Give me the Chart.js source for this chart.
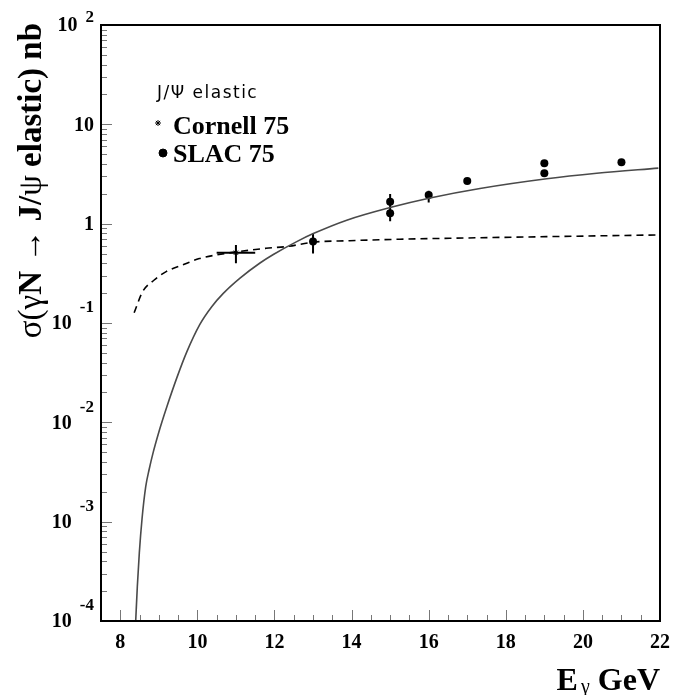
<!DOCTYPE html>
<html>
<head>
<meta charset="utf-8">
<script src="https://cdn.jsdelivr.net/npm/chart.js@4/dist/chart.umd.min.js"></script>
<style>
  html, body { margin: 0; padding: 0; background: #fff; }
  canvas { display: block; }
</style>
</head>
<body>
<canvas id="chart" width="675" height="695"></canvas>
<script>
// ---- axis ticks ----
const xTickLabels = [8, 10, 12, 14, 16, 18, 20, 22];
const yDecades = [-4, -3, -2, -1, 0, 1, 2];

// ---- model curves: photon energy (GeV) and cross section (nb) ----
const fitE     = [8.400, 8.442, 8.494, 8.564, 8.660, 8.753, 8.857, 8.986, 9.090, 9.204, 9.464, 9.723, 10.068, 10.372, 10.672, 11.106, 11.624, 11.970, 12.577, 13.007, 13.874, 14.997, 16.034, 17.331, 19.062, 20.359, 21.957];
const fitSigma = [1.0e-4, 2.21e-4, 4.85e-4, 1.064e-3, 2.25e-3, 3.41e-3, 5.04e-3, 7.64e-3, 0.01038, 0.01422, 0.02786, 0.0509, 0.0973, 0.1459, 0.1986, 0.2831, 0.4018, 0.4895, 0.6598, 0.7943, 1.084, 1.452, 1.813, 2.259, 2.831, 3.214, 3.625];

const vdmE     = [8.36, 8.58, 8.88, 9.19, 9.62, 10.05, 10.49, 11.78, 12.35, 12.99, 13.95, 15.25, 16.55, 19.06, 21.95];
const vdmSigma = [0.127, 0.207, 0.271, 0.329, 0.384, 0.445, 0.484, 0.565, 0.590, 0.650, 0.674, 0.697, 0.713, 0.740, 0.770];

// ---- measurements ----
const slacE       = [13, 15, 15, 16, 17, 19, 19, 21];
const slacSigma   = [0.66, 1.66, 1.27, 1.94, 2.69, 4.06, 3.22, 4.15];
const slacErrUp   = [0.14, 0.33, 0.25, 0.21, 0, 0, 0, 0];
const slacErrDown = [0.16, 0.30, 0.21, 0.31, 0, 0, 0, 0];

const cornellE       = [11];
const cornellSigma   = [0.51];
const cornellErrE    = [0.5];
const cornellErrUp   = [0.10];
const cornellErrDown = [0.11];

const SERIF = '"Liberation Serif", "Times New Roman", serif';

const toXY = (xs, ys) => xs.map((x, i) => ({ x: x, y: ys[i] }));

// frame and inward tick marks
const framePlugin = {
  id: 'frame',
  beforeDatasetsDraw(chart) {
    const { ctx, chartArea: a, scales: { x, y } } = chart;
    ctx.save();
    ctx.strokeStyle = '#777';
    ctx.lineWidth = 1;
    ctx.beginPath();
    for (let v = 8; v < 22; v += 0.5) {
      const px = Math.round(x.getPixelForValue(v)) + 0.5;
      const len = (v % 2 === 0) ? 11 : 6;
      ctx.moveTo(px, a.bottom);
      ctx.lineTo(px, a.bottom - len);
    }
    for (let d = -4; d < 2; d++) {
      for (let k = 1; k <= 9; k++) {
        if (d === -4 && k === 1) continue;
        const py = Math.round(y.getPixelForValue(k * Math.pow(10, d))) + 0.5;
        const len = (k === 1) ? 11 : 6;
        ctx.moveTo(a.left, py);
        ctx.lineTo(a.left + len, py);
      }
    }
    ctx.stroke();
    ctx.restore();
  },
  afterDatasetsDraw(chart) {
    const { ctx, chartArea: a } = chart;
    ctx.save();
    ctx.strokeStyle = '#000';
    ctx.lineWidth = 2;
    ctx.strokeRect(a.left, a.top, a.right - a.left, a.bottom - a.top);
    ctx.restore();
  }
};

// error bars from the measurement arrays
const errorBarPlugin = {
  id: 'errorBars',
  beforeDatasetsDraw(chart) {
    const { ctx, scales: { x, y } } = chart;
    ctx.save();
    ctx.strokeStyle = '#000';
    ctx.lineWidth = 2;
    ctx.beginPath();
    slacE.forEach((e, i) => {
      if (!slacErrUp[i] && !slacErrDown[i]) return;
      const px = x.getPixelForValue(e);
      ctx.moveTo(px, y.getPixelForValue(slacSigma[i] + slacErrUp[i]));
      ctx.lineTo(px, y.getPixelForValue(slacSigma[i] - slacErrDown[i]));
    });
    cornellE.forEach((e, i) => {
      const px = x.getPixelForValue(e);
      const py = y.getPixelForValue(cornellSigma[i]);
      ctx.moveTo(x.getPixelForValue(e - cornellErrE[i]), py);
      ctx.lineTo(x.getPixelForValue(e + cornellErrE[i]), py);
      ctx.moveTo(px, y.getPixelForValue(cornellSigma[i] + cornellErrUp[i]));
      ctx.lineTo(px, y.getPixelForValue(cornellSigma[i] - cornellErrDown[i]));
    });
    ctx.stroke();
    ctx.restore();
  }
};

// y tick labels as powers of ten, axis titles and legend
const textPlugin = {
  id: 'texts',
  afterDraw(chart) {
    const { ctx, scales: { y } } = chart;
    ctx.save();
    ctx.fillStyle = '#000';
    ctx.textBaseline = 'middle';
    ctx.textAlign = 'right';
    const baseFont = 'bold 20px ' + SERIF;
    const expFont = 'bold 17px ' + SERIF;
    const rightX = 94;
    yDecades.forEach(d => {
      const py = y.getPixelForValue(Math.pow(10, d));
      if (d === 0 || d === 1) {
        ctx.font = baseFont;
        ctx.fillText(d === 0 ? '1' : '10', rightX, py + 1);
        return;
      }
      const exp = String(d);
      ctx.font = expFont;
      const ew = ctx.measureText(exp).width;
      ctx.fillText(exp, rightX, Math.max(py - 15, 17.5));
      ctx.font = baseFont;
      ctx.fillText('10', rightX - ew - 8, py + 1);
    });

    // x axis title
    ctx.textAlign = 'left';
    ctx.textBaseline = 'alphabetic';
    const bigB = 'bold 32px ' + SERIF;
    const subF = '20px ' + SERIF;
    ctx.font = bigB; const wE = ctx.measureText('E').width;
    ctx.font = subF; const wG = ctx.measureText('γ').width;
    ctx.font = bigB; const wR = ctx.measureText(' GeV').width;
    let sx = 660 - (wE + 3 + wG + wR);
    ctx.font = bigB; ctx.fillText('E', sx, 690); sx += wE + 3;
    ctx.font = subF; ctx.fillText('γ', sx, 693); sx += wG;
    ctx.font = bigB; ctx.fillText(' GeV', sx, 690);

    // y axis title, rotated, ending at the top of the frame
    const parts = [
      { t: 'σ(γ', f: '33px ' + SERIF },
      { t: 'N ', f: 'bold 33px ' + SERIF },
      { t: '→', f: '33px ' + SERIF },
      { t: ' J/', f: 'bold 33px ' + SERIF },
      { t: 'ψ', f: '33px ' + SERIF },
      { t: ' elastic) nb', f: 'bold 33px ' + SERIF }
    ];
    let total = 0;
    parts.forEach(p => { ctx.font = p.f; p.w = ctx.measureText(p.t).width; total += p.w; });
    ctx.save();
    ctx.translate(41, 23 + total);
    ctx.rotate(-Math.PI / 2);
    let tx = 0;
    parts.forEach(p => { ctx.font = p.f; ctx.fillText(p.t, tx, 0); tx += p.w; });
    ctx.restore();

    // legend
    ctx.save();
    ctx.font = '17px "DejaVu Sans", sans-serif';
    ctx.letterSpacing = '1.5px';
    ctx.fillText('J/Ψ elastic', 157, 98);
    ctx.restore();
    ctx.font = 'bold 26px ' + SERIF;
    ctx.fillText('Cornell 75', 173, 134);
    ctx.fillText('SLAC 75', 173, 162);
    ctx.fillStyle = '#000';
    ctx.strokeStyle = '#000';
    Chart.helpers.drawPoint(ctx, { pointStyle: 'star', radius: 3, rotation: 0, borderWidth: 1 }, 158, 123);
    Chart.helpers.drawPoint(ctx, { pointStyle: 'circle', radius: 4, rotation: 0, borderWidth: 1 }, 163, 153);
    ctx.restore();
  }
};

new Chart(document.getElementById('chart'), {
  type: 'scatter',
  data: {
    datasets: [
      {
        label: 'fit',
        data: toXY(fitE, fitSigma),
        showLine: true,
        borderColor: '#4a4a4a',
        borderWidth: 1.6,
        pointRadius: 0,
        cubicInterpolationMode: 'monotone',
        fill: false
      },
      {
        label: 'VDM',
        data: toXY(vdmE, vdmSigma),
        showLine: true,
        borderColor: '#000',
        borderWidth: 1.6,
        borderDash: [7, 5],
        pointRadius: 0,
        cubicInterpolationMode: 'monotone',
        fill: false
      },
      {
        label: 'SLAC 75',
        data: toXY(slacE, slacSigma),
        pointStyle: 'circle',
        pointRadius: 4,
        backgroundColor: '#000',
        borderColor: '#000',
        borderWidth: 0
      },
      {
        label: 'Cornell 75',
        data: toXY(cornellE, cornellSigma),
        pointStyle: 'star',
        pointRadius: 3,
        backgroundColor: '#000',
        borderColor: '#000',
        borderWidth: 1
      }
    ]
  },
  options: {
    responsive: false,
    devicePixelRatio: 1,
    animation: false,
    layout: { padding: { top: 25, right: 15, left: 0, bottom: 0 } },
    plugins: { legend: { display: false }, tooltip: { enabled: false } },
    scales: {
      x: {
        type: 'linear',
        min: 7.5,
        max: 22,
        afterBuildTicks: s => { s.ticks = xTickLabels.map(v => ({ value: v })); },
        afterFit: s => { s.height = 74; s.paddingLeft = 0; s.paddingRight = 0; },
        grid: { display: false, drawTicks: false },
        border: { display: false },
        ticks: {
          autoSkip: false,
          maxRotation: 0,
          padding: 10,
          color: '#000',
          font: { family: SERIF, weight: 'bold', size: 20 }
        }
      },
      y: {
        type: 'logarithmic',
        min: 1e-4,
        max: 100,
        afterFit: s => { s.width = 101; s.paddingTop = 0; s.paddingBottom = 0; },
        grid: { display: false, drawTicks: false },
        border: { display: false },
        ticks: { display: false }
      }
    }
  },
  plugins: [framePlugin, errorBarPlugin, textPlugin]
});
</script>
</body>
</html>
